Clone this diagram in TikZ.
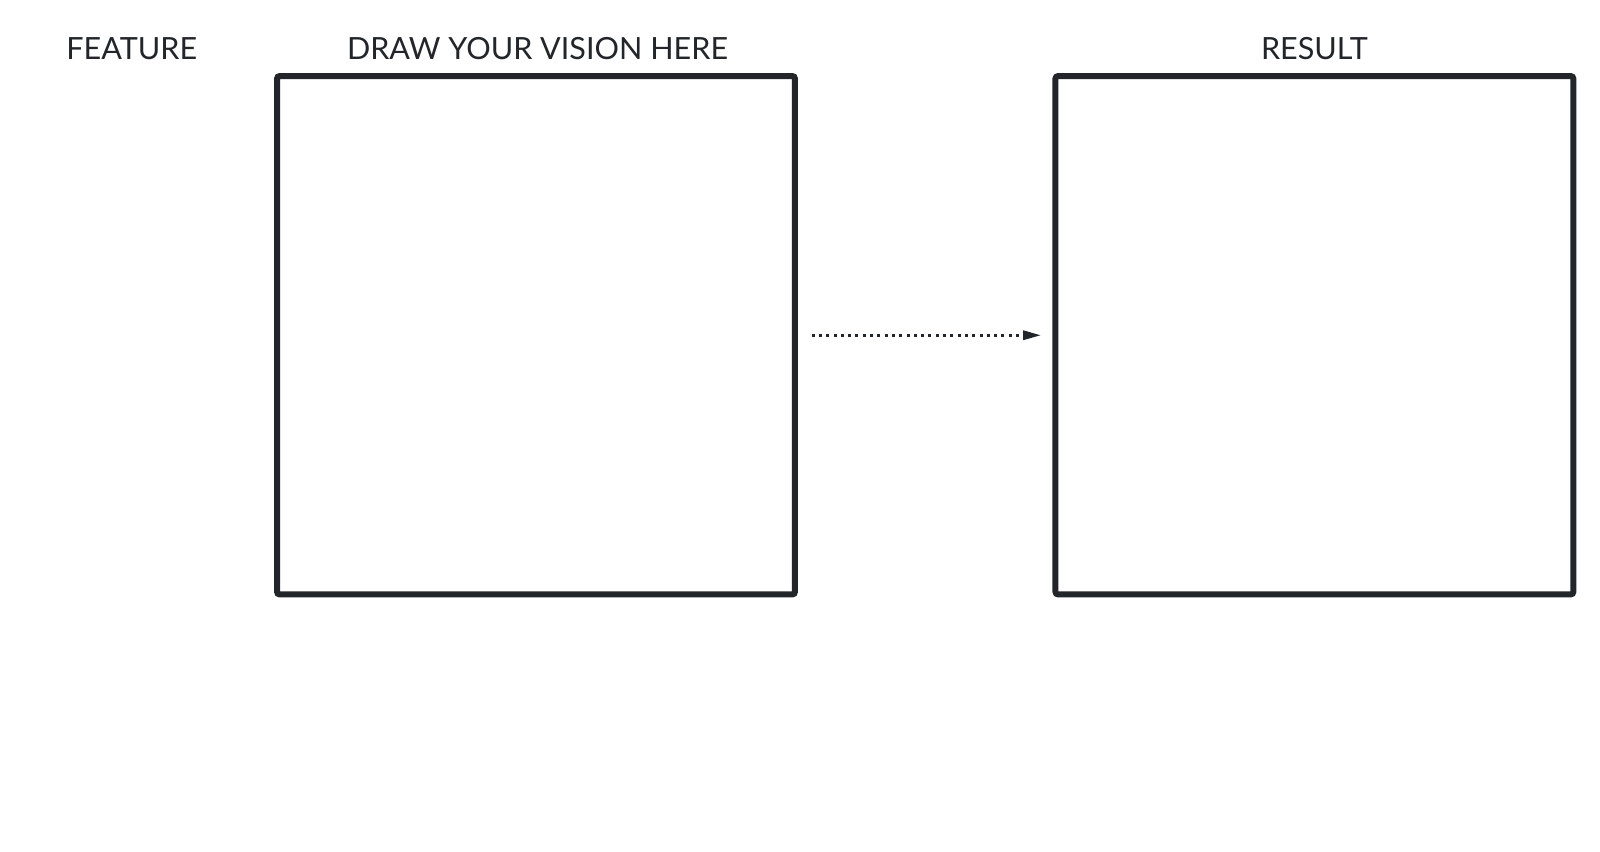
\documentclass[tikz,border=0pt]{standalone}
\usepackage{fontspec}
\setmainfont{Lato}
\usetikzlibrary{arrows.meta}
\definecolor{inkdark}{RGB}{34,37,41}
\tikzset{
  panel/.style={draw=inkdark, line width=3.4pt, rounded corners=1.5pt, minimum width=10.36cm, minimum height=10.37cm, inner sep=0pt},
  heading/.style={text=inkdark, font=\fontsize{17.4}{20}\selectfont, inner sep=0pt, anchor=base},
  flowarrow/.style={draw=inkdark, line width=1.7pt, dash pattern=on 0.06cm off 0.086cm, -{Triangle[length=0.36cm, width=0.18cm]}, shorten <=0.274cm, shorten >=0.226cm},
}
\begin{document}
\begin{tikzpicture}[x=0.02cm, y=-0.02cm]
        \useasboundingbox (0,0) rectangle (1600,852);

        % Titles
        \node[heading] (featurelabel) at (131.7,59) {FEATURE};
        \node[heading] (visionlabel) at (537.5,59) {DRAW YOUR VISION HERE};
        \node[heading] (resultlabel) at (1314.4,59) {RESULT};

        % Empty panels
        \node[panel] (drawbox) at (536,335.25) {};
        \node[panel] (resultbox) at (1314.4,335.25) {};

        % Dotted arrow between the panels
        \draw[flowarrow] (drawbox) -- (resultbox);
    \end{tikzpicture}
\end{document}
